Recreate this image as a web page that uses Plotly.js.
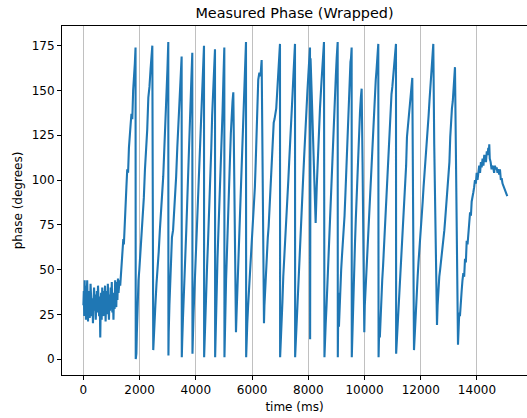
<!DOCTYPE html>
<html>
<head>
<meta charset="utf-8">
<script src="https://cdn.plot.ly/plotly-3.0.1.min.js"></script>
<style>html,body{margin:0;padding:0;background:#fff;}#chart{width:527px;height:418px;}</style>
</head>
<body>
<div id="chart"></div>
<script>
// [time (ms), phase (degrees)] pairs
const warmup = [[0,30],[15,38],[30,24],[45,44],[60,27],[75,41],[90,22],[105,35],[120,29],[135,44],[150,33],[165,21],[180,38],[195,26],[210,36],[225,23],[240,31],[255,42],[270,28],[285,37],[300,24],
[320,34],[340,20],[360,32],[380,40],[400,27],[420,36],[440,22],[460,30],[480,38],[500,26],[520,41],[540,33],[560,24],[580,35],[600,12],[615,28],[630,37],
[650,22],[670,40],[690,31],[710,24],[730,38],[750,29],[770,41],[790,21],[810,33],[830,38],[850,25],[870,42],[890,30],[910,22],[930,36],[950,27],[970,40],[990,31],[1010,43],[1030,26],[1050,34],[1070,22],[1090,37],[1110,28],[1130,44],[1150,35],[1170,29],[1190,43],[1210,33],[1230,45],[1250,37],[1270,41],[1290,44],
[1310,41],[1330,46],[1360,50],[1390,58],[1420,67],[1440,64],[1470,78],[1500,88],[1530,96],[1560,106],[1590,104],[1620,118],[1650,128],[1680,131],[1710,137],[1740,134],[1770,150],[1800,156],[1830,165],[1855,174]];

const cyclesEarly = [[1862,0],[1875,14],[1885,3],
[1900,14],[1930,40],[1960,44],[1990,50],[2030,60],[2070,68],[2110,78],[2150,90],[2190,106],[2230,116],[2270,128],[2310,146],[2350,152],[2390,162],[2420,168],[2452,175],
[2485,5],
[2500,12],[2525,22],[2560,30],[2600,42],[2640,50],[2680,60],[2720,72],[2760,80],[2800,92],[2840,102],[2880,116],[2920,134],[2960,150],[2990,162],[3020,177],
[3025,2],
[3035,15],[3060,30],[3090,44],[3120,58],[3150,68],[3190,72],[3230,82],[3260,88],[3300,102],[3340,118],[3380,134],[3420,150],[3450,158],[3480,164],[3495,169],
[3500,1],
[3515,10],[3540,22],[3570,38],[3600,50],[3630,60],[3660,72],[3690,86],[3720,98],[3750,110],[3780,124],[3810,140],[3840,156],[3874,171],
[3880,3],
[3895,12],[3920,26],[3950,38],[3980,50],[4010,62],[4040,76],[4070,86],[4100,98],[4130,112],[4160,124],[4190,140],[4220,150],[4250,160],[4270,168],[4290,175],
[4295,1],
[4310,10],[4340,26],[4370,40],[4400,52],[4430,64],[4460,76],[4490,90],[4520,104],[4550,118],[4580,136],[4610,150],[4640,160],[4660,166],[4681,173],
[4686,1],
[4700,14],[4720,30],[4745,46],[4770,56],[4800,70],[4830,82],[4860,96],[4890,110],[4920,124],[4950,138],[4980,156],[5013,174],
[5018,1],
[5030,14],[5050,28],[5075,44],[5100,56],[5130,74],[5160,92],[5190,100],[5215,112],[5245,126],[5275,138],[5305,144],[5333,149],
[5360,110],[5390,60],[5428,15],
[5450,26],[5480,40],[5510,56],[5540,68],[5570,84],[5600,96],[5630,112],[5660,124],[5690,140],[5720,150],[5750,160],[5784,177],
[5790,1]];

const cyclesMid = [[5800,8],[5830,20],[5860,30],[5890,38],[5920,44],[5950,52],[5980,62],[6010,70],[6040,80],[6070,88],[6100,96],[6130,110],[6160,128],[6190,138],[6220,156],[6260,160],[6300,158],[6341,167],
[6380,90],[6424,20],
[6440,30],[6470,42],[6500,50],[6530,58],[6560,68],[6590,74],[6620,84],[6650,94],[6680,104],[6710,112],[6740,122],[6770,132],[6800,134],[6830,138],[6860,140],[6890,148],[6920,156],[6950,164],[6970,168],[6993,176],
[6998,1],
[7020,8],[7050,18],[7080,32],[7110,46],[7140,54],[7170,64],[7200,74],[7230,84],[7260,92],[7290,100],[7320,110],[7350,118],[7380,128],[7410,138],[7440,148],[7470,158],[7500,166],[7527,176],
[7532,1],
[7550,8],[7580,18],[7610,30],[7640,42],[7670,52],[7700,62],[7730,72],[7760,82],[7790,92],[7820,102],[7850,112],[7880,124],[7910,136],[7940,144],[7970,150],[8000,158],[8030,166],[8060,174],
[8065,11],[8080,168],[8120,149],[8190,112],[8262,76],[8300,96],[8357,121],[8416,140],[8470,155],[8520,165],[8558,177],
[8575,1],
[8590,12],[8620,20],[8650,30],[8680,42],[8710,56],[8740,70],[8770,84],[8800,96],[8830,108],[8860,118],[8890,128],[8920,140],[8950,150],[8980,158],[9010,168],[9045,177],
[9050,1],[9070,37],[9090,18],
[9110,28],[9140,40],[9170,50],[9200,58],[9230,64],[9260,72],[9290,80],[9320,92],[9350,106],[9380,118],[9410,132],[9440,144],[9470,158],[9500,166],[9520,168],[9542,174],
[9547,1],
[9560,10],[9580,18],[9605,28],[9630,44],[9660,64],[9690,78],[9720,92],[9750,106],[9780,120],[9810,128],[9840,138],[9870,146],[9898,151],
[9930,110],[9960,60],[9992,15]];

const cyclesLate = [[10010,30],[10040,40],[10070,46],[10100,56],[10130,66],[10160,78],[10190,92],[10220,100],[10250,110],[10280,120],[10310,130],[10340,140],[10370,148],[10400,156],[10430,162],[10460,168],[10490,176],
[10500,1],[10530,22],[10545,12],
[10570,24],[10600,36],[10630,44],[10660,52],[10690,62],[10720,72],[10750,80],[10780,92],[10810,100],[10840,110],[10870,120],[10900,128],[10930,138],[10960,148],[10990,152],[11020,158],[11050,164],[11080,170],[11100,172],[11119,176],
[11125,3],
[11150,10],[11180,20],[11210,28],[11240,36],[11270,44],[11300,52],[11330,60],[11360,68],[11390,78],[11420,88],[11450,98],[11480,108],[11510,124],[11540,130],[11570,134],[11600,138],[11630,146],[11660,152],[11700,157],
[11760,5],
[11780,12],[11800,22],[11830,30],[11860,40],[11890,46],[11920,54],[11950,60],[11980,68],[12010,74],[12040,80],[12070,88],[12100,96],[12130,102],[12160,108],[12190,114],[12220,122],[12250,128],[12280,136],[12310,144],[12340,150],[12370,158],[12400,164],[12420,170],[12447,176],
[12480,120],[12510,80],[12545,40],[12578,19],
[12600,30],[12630,40],[12660,46],[12690,50],[12720,54],[12750,58],[12780,62],[12810,66],[12840,72],[12870,78],[12900,84],[12930,92],[12960,98],[12990,104],[13020,110],[13050,124],[13080,134],[13110,140],[13140,144],[13170,150],[13195,156],[13218,163],
[13325,8]];

const tail = [[13350,20],[13370,26],[13395,24],[13420,34],[13455,38],[13485,44],[13515,48],[13545,46],[13575,56],[13605,54],[13635,66],[13665,64],[13695,74],[13725,76],[13755,82],[13785,80],[13812,88],[13840,92],[13870,93],[13900,96],[13929,100],[13960,98],[13990,104],[14020,100],[14047,104],[14080,108],[14110,104],[14140,110],[14167,107],[14200,112],[14230,108],[14260,114],[14285,112],[14320,110],[14350,116],[14380,114],[14403,118],[14420,114],[14438,120],[14455,112],[14487,110],[14520,106],[14550,108],[14580,107],[14610,104],[14640,108],[14670,106],[14701,107],[14730,104],[14760,106],[14790,103],[14818,106],[14850,100],[14879,101],[14910,98],[14936,97],[14970,96],[15000,94],[15040,93],[15078,91]];

const xTicks = [0,2000,4000,6000,8000,10000,12000,14000];
const yTicks = [0,25,50,75,100,125,150,175];

const all = warmup.concat(cyclesEarly, cyclesMid, cyclesLate, tail);
const timeMs = all.map(d => d[0]);
const phaseDeg = all.map(d => d[1]);

const trace = {
  x: timeMs, y: phaseDeg, type: 'scatter', mode: 'lines',
  line: {color: '#1f77b4', width: 2.1}, hoverinfo: 'skip'
};

const layout = {
  width: 527, height: 418,
  margin: {l: 62, r: 0, t: 26, b: 43, pad: 0},
  paper_bgcolor: '#ffffff', plot_bgcolor: '#ffffff',
  font: {family: 'DejaVu Sans, sans-serif', size: 12, color: '#000'},
  showlegend: false,
  title: {text: 'Measured Phase (Wrapped)', font: {size: 14.4, color: '#000'},
          xref: 'paper', x: 0.5, xanchor: 'center', yref: 'container', y: 1 - 13/418, yanchor: 'middle'},
  xaxis: {
    range: [-761, 15780], tickvals: xTicks, ticktext: xTicks.map(String),
    ticks: 'outside', ticklen: 4, tickwidth: 1, tickcolor: '#000',
    showline: true, linecolor: '#000', linewidth: 1, mirror: true,
    showgrid: true, gridcolor: '#c0c0c0', gridwidth: 1, zeroline: false,
    tickfont: {size: 12}, automargin: false,
    title: {text: 'time (ms)', font: {size: 12}, standoff: 6}
  },
  yaxis: {
    range: [-8.9, 186], tickvals: yTicks, ticktext: yTicks.map(String),
    ticks: 'outside', ticklen: 4, tickwidth: 1, tickcolor: '#000',
    showline: true, linecolor: '#000', linewidth: 1, mirror: true,
    showgrid: false, zeroline: false,
    tickfont: {size: 12}, automargin: false,
    title: {text: 'phase (degrees)', font: {size: 12}, standoff: 6}
  }
};

Plotly.newPlot('chart', [trace], layout, {staticPlot: true, displayModeBar: false});
</script>
</body>
</html>
